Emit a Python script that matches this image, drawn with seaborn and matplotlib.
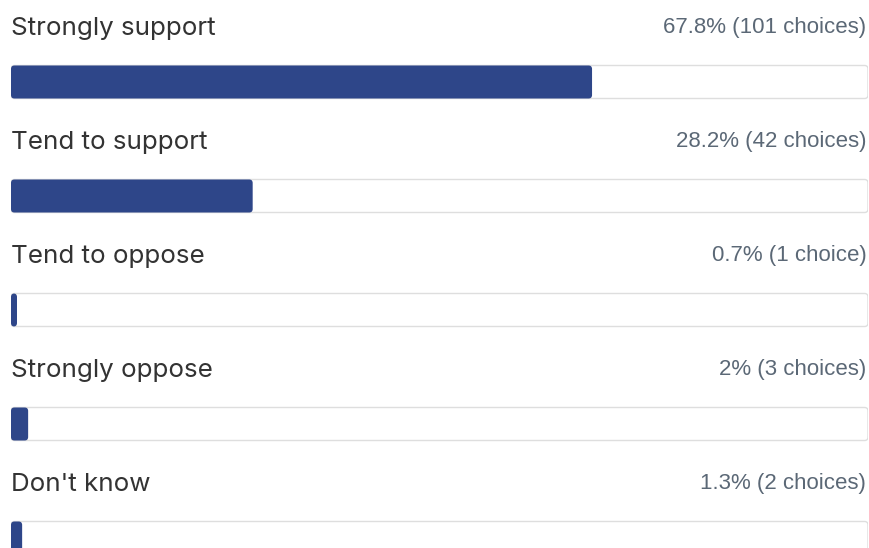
import matplotlib
matplotlib.use("Agg")
import matplotlib.pyplot as plt
import seaborn as sns
import pandas as pd
from matplotlib.patches import FancyBboxPatch

categories = ["Strongly support", "Tend to support", "Tend to oppose", "Strongly oppose", "Don't know"]
percent = [67.8, 28.2, 0.7, 2.0, 1.3]
percent_text = ["67.8%", "28.2%", "0.7%", "2%", "1.3%"]
counts = [101, 42, 1, 3, 2]

df = pd.DataFrame({"answer": categories, "percent": percent, "track": [100] * len(categories)})

sns.set_style("white")
W, H = 869, 548
fig = plt.figure(figsize=(W / 100, H / 100), dpi=100)
left_px, right_px = 11, 868
ax = fig.add_axes([left_px / W, 0, (right_px - left_px) / W, 1])

row_px = 114
first_center_px = 82
bar_px = 33
width = bar_px / row_px

sns.barplot(data=df, x="track", y="answer", orient="h", color="white", width=width, ax=ax)
sns.barplot(data=df, x="percent", y="answer", orient="h", color="#2e4689", width=width, ax=ax)

ax.set_xlim(0, 100)
ax.set_ylim((H - first_center_px) / row_px, -first_center_px / row_px)
ax.axis("off")

# swap plain rectangles for rounded ones
px_x = 100 / (right_px - left_px)
px_y = 1 / row_px
rad = 3.5 * px_x
aspect = px_y / px_x
n = len(categories)
patches = list(ax.patches)
for k, p in enumerate(patches):
    is_track = k < n
    x0, y0 = p.get_x(), p.get_y()
    w, h = p.get_width(), p.get_height()
    box = FancyBboxPatch((x0, y0), w, h,
                         boxstyle=f"round,pad=0,rounding_size={rad}",
                         mutation_aspect=aspect,
                         facecolor="white" if is_track else "#2e4689",
                         edgecolor="#dedede" if is_track else "none",
                         linewidth=1.0 if is_track else 0,
                         zorder=2 if is_track else 3)
    p.remove()
    ax.add_patch(box)

label_offset = (28 - first_center_px) / row_px
for i, (cat, pt, c) in enumerate(zip(categories, percent_text, counts)):
    ax.text(0, i + label_offset, cat, ha="left", va="center",
            fontsize=18.7, color="#333333", family="Inter")
    word = "choice" if c == 1 else "choices"
    ax.text(99.8, i + label_offset - 1 / row_px, f"{pt} ({c} {word})", ha="right", va="center",
            fontsize=16, color="#5b6876", family="Liberation Sans")

fig.savefig("out.png", dpi=100, facecolor="white")
